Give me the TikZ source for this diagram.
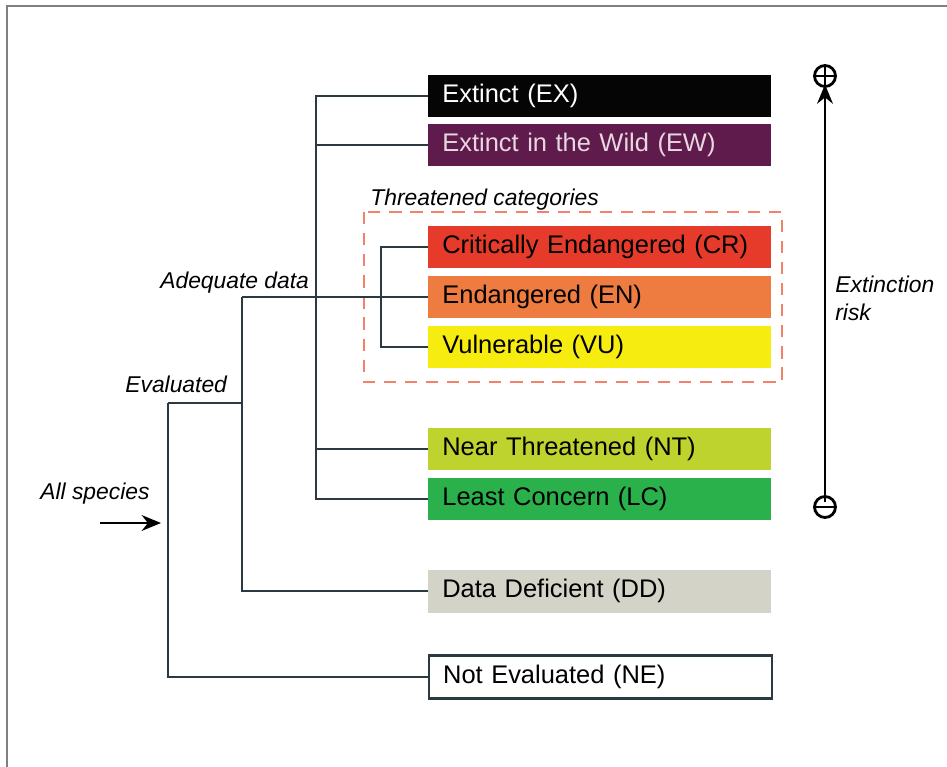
\documentclass[tikz,border=0pt]{standalone}
\usepackage{fontspec}
\setmainfont{Liberation Sans}
\usetikzlibrary{arrows.meta}
\definecolor{linecol}{HTML}{2B3A40}
\definecolor{dashcol}{HTML}{F4826A}
\definecolor{exfill}{HTML}{050505}
\definecolor{ewfill}{HTML}{5E1B4C}
\definecolor{ewtext}{HTML}{E8D6E0}
\definecolor{crfill}{HTML}{E63B2A}
\definecolor{enfill}{HTML}{EE7B40}
\definecolor{vufill}{HTML}{F7EC0F}
\definecolor{ntfill}{HTML}{BFD32F}
\definecolor{lcfill}{HTML}{2BB14B}
\definecolor{ddfill}{HTML}{D3D3C8}
\begin{document}
\begin{tikzpicture}[
                x = 0.02cm, y = -0.02cm,
                cat/.style = {anchor = west, minimum width = 6.86cm, minimum height = 0.86cm,
                              text width = 6.30cm, align = left, inner xsep = 0.28cm, inner ysep = 0mm,
                              font = \fontsize{14.5}{16}\selectfont},
                lbl/.style = {anchor = west, inner sep = 0mm, font = \fontsize{13}{16}\selectfont\itshape},
                sign/.style = {circle, draw, line width = 1.6pt, minimum size = 0.42cm, inner sep = 0mm},
                plussign/.style = {sign, path picture = {
                        \draw[line width = 1.6pt] (path picture bounding box.north) -- (path picture bounding box.south);
                        \draw[line width = 1.6pt] (path picture bounding box.west) -- (path picture bounding box.east);}},
                minussign/.style = {sign, path picture = {
                        \draw[line width = 1.6pt] (path picture bounding box.west) -- (path picture bounding box.east);}},
                link/.style = {draw = linecol, line width = 1.5pt},
                arr/.style = {draw, line width = 1.4pt, ->, >={Stealth[length = 11pt, width = 9pt]}},
                dashbox/.style = {draw = dashcol, line width = 1.6pt, dash pattern = on 7pt off 5pt},
            ]
            \useasboundingbox (0, 0) rectangle (947, 767);
            \draw[gray, line width = 0.8pt] (7, 767) -- (7, 6) -- (947, 6);

            % categories
            \node (EX) at (428, 96) [cat, fill = exfill, text = white] {Extinct (EX)};
            \node (EW) at (428, 145) [cat, fill = ewfill, text = ewtext] {Extinct in the Wild (EW)};
            \node (CR) at (428, 247) [cat, fill = crfill] {Critically Endangered (CR)};
            \node (EN) at (428, 297) [cat, fill = enfill] {Endangered (EN)};
            \node (VU) at (428, 347) [cat, fill = vufill] {Vulnerable (VU)};
            \node (NT) at (428, 449) [cat, fill = ntfill] {Near Threatened (NT)};
            \node (LC) at (428, 499) [cat, fill = lcfill] {Least Concern (LC)};
            \node (DD) at (428, 591) [cat, fill = ddfill] {Data Deficient (DD)};
            \node (NE) at (428, 677) [cat, draw = linecol, line width = 1.3pt, fill = white] {Not Evaluated (NE)};

            \draw[dashbox] (364, 212) rectangle (782, 382);

            % labels
            \node (thrlbl) at (370, 200) [lbl] {Threatened categories};
            \node (adqlbl) at (160, 283) [lbl] {Adequate data};
            \node (evlbl) at (125, 384) [lbl] {Evaluated};
            \node (alllbl) at (40, 494) [lbl] {All species};
            \node (risklbl) at (835, 298) [lbl, align = left] {Extinction\\risk};

            % tree
            \coordinate (riskT) at (316, 0);
            \coordinate (thrT) at (381, 0);
            \coordinate (adq) at (242, 297);
            \coordinate (ev) at (168, 403);
            \coordinate (allS) at (100, 523);
            \coordinate (allE) at (161, 523);

            \path[link] (EX.west) -| (riskT |- LC.west) -- (LC.west);
            \path[link] (EW.west) -- (riskT |- EW.west);
            \path[link] (NT.west) -- (riskT |- NT.west);
            \path[link] (CR.west) -| (thrT |- VU.west) -- (VU.west);
            \path[link] (adq) -- (EN.west);
            \path[link] (adq) |- (DD.west);
            \path[link] (ev) -- (adq |- ev);
            \path[link] (ev) |- (NE.west);
            \path[arr] (allS) -- (allE);

            % extinction risk
            \node (plus) at (825, 76) [plussign] {};
            \node (minus) at (825, 507) [minussign] {};
            \path[arr] ([yshift = -4pt]minus.north) -- ([yshift = 2pt]plus.south);
        \end{tikzpicture}
\end{document}
